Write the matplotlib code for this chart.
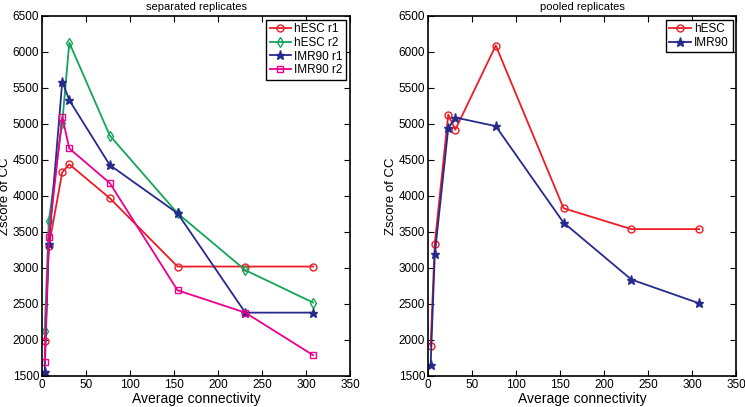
import matplotlib
matplotlib.use("Agg")
import matplotlib.pyplot as plt

plt.rcParams['font.family'] = ['Liberation Sans', 'DejaVu Sans']

# average connectivity (x) shared by all series
conn = [3, 7.7, 23, 31, 77, 154, 231, 308]

# separated replicates
hesc_r1 = [1990, 3300, 4330, 4440, 3970, 3020, 3020, 3020]
hesc_r2 = [2120, 3650, 5020, 6130, 4840, 3760, 2970, 2520]
imr90_r1 = [1550, 3330, 5590, 5330, 4430, 3760, 2380, 2380]
imr90_r2 = [1700, 3430, 5100, 4660, 4180, 2690, 2380, 1790]

# pooled replicates
hesc_pool = [1920, 3340, 5130, 4920, 6090, 3830, 3540, 3540]
imr90_pool = [1650, 3190, 4940, 5090, 4970, 3630, 2840, 2510]

RED = "#ee1c25"
GREEN = "#14a55a"
NAVY = "#262a8c"
MAGENTA = "#ec008c"

xticks = [0, 50, 100, 150, 200, 250, 300, 350]
yticks = [1500, 2000, 2500, 3000, 3500, 4000, 4500, 5000, 5500, 6000, 6500]


def style_axes(ax, title):
    ax.set_xlim(0, 350)
    ax.set_ylim(1500, 6500)
    ax.set_xticks(xticks)
    ax.set_yticks(yticks)
    ax.tick_params(direction="in", top=True, right=True, length=4,
                   width=0.8, labelsize=8.5, pad=2)
    for s in ax.spines.values():
        s.set_linewidth(1.2)
    ax.set_xlabel("Average connectivity", fontsize=10, labelpad=1)
    ax.set_ylabel("Zscore of CC", fontsize=9.5, labelpad=1)
    ax.set_title(title, fontsize=8, pad=4)


def plot_series(ax, y, color, marker, label, filled=False):
    ax.plot(conn, y, color=color, marker=marker,
            markersize=5 if marker != '*' else 6.5,
            markerfacecolor=color if filled else "none",
            markeredgecolor=color, markeredgewidth=1.0,
            linewidth=1.3, label=label)


fig = plt.figure(figsize=(7.45, 4.07), dpi=100)
ax1 = fig.add_axes([0.0564, 0.0762, 0.4134, 0.8845])
ax2 = fig.add_axes([0.5745, 0.0762, 0.4135, 0.8845])

plot_series(ax1, hesc_r1, RED, 'o', "hESC r1")
plot_series(ax1, hesc_r2, GREEN, 'd', "hESC r2")
plot_series(ax1, imr90_r1, NAVY, '*', "IMR90 r1", filled=True)
plot_series(ax1, imr90_r2, MAGENTA, 's', "IMR90 r2")
style_axes(ax1, "separated replicates")

plot_series(ax2, hesc_pool, RED, 'o', "hESC")
plot_series(ax2, imr90_pool, NAVY, '*', "IMR90", filled=True)
style_axes(ax2, "pooled replicates")

for ax in (ax1, ax2):
    leg = ax.legend(loc="upper right", fontsize=8.5, fancybox=False,
                    framealpha=1, edgecolor="black", borderpad=0.3,
                    handlelength=1.8, handletextpad=0.3, labelspacing=0.15,
                    borderaxespad=0.3)
    leg.get_frame().set_linewidth(1.0)

fig.savefig("out.png", dpi=100)
